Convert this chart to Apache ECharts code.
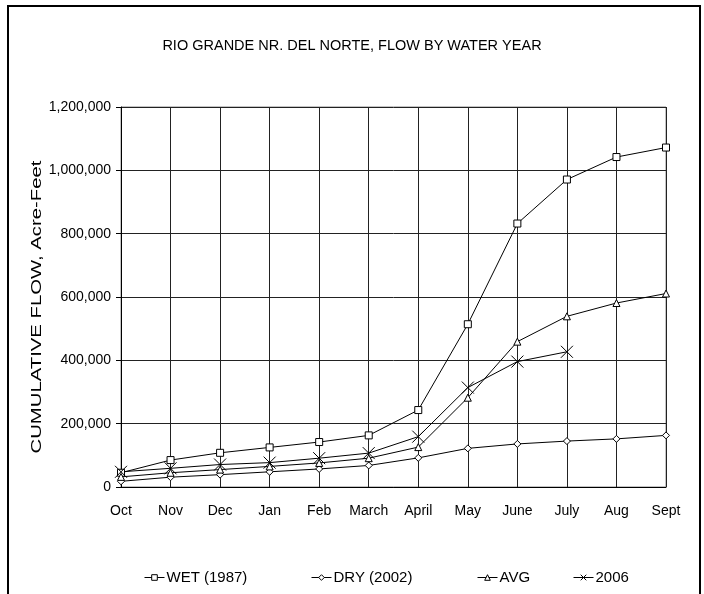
<!DOCTYPE html>
<html><head><meta charset="utf-8">
<script src="https://cdn.jsdelivr.net/npm/echarts@6/dist/echarts.min.js"></script>
<style>html,body{margin:0;padding:0;background:#fff}#c{width:704px;height:594px}</style>
</head><body><div id="c"></div>
<script>
const months = ['Oct','Nov','Dec','Jan','Feb','March','April','May','June','July','Aug','Sept'];
const wet1987 = [45000, 85000, 108000, 125000, 142000, 163000, 243000, 514000, 832000, 971000, 1042000, 1072000];
const dry2002 = [18000, 31000, 39000, 48000, 57000, 68000, 92000, 122000, 136000, 145000, 152000, 163000];
const avg = [32000, 45000, 55000, 65000, 76000, 91000, 126000, 282000, 459000, 539000, 581000, 611000];
const y2006 = [48000, 59000, 71000, 77000, 91000, 107000, 159000, 314000, 396000, 427000];
const seriesNames = ['WET (1987)', 'DRY (2002)', 'AVG', '2006'];
const titleText = 'RIO GRANDE NR. DEL NORTE, FLOW BY WATER YEAR';
const yAxisTitle = 'CUMULATIVE FLOW, Acre-Feet';

const FONT = '"Liberation Sans", Arial, sans-serif';
const xPath = 'path://M0,0L10,10M10,0L0,10';
const chart = echarts.init(document.getElementById('c'));
function mk(name, data, symbol, size) {
  return {
    name, type: 'line', data, symbol, symbolSize: size, showSymbol: true,
    lineStyle: { color: '#000', width: 1 },
    itemStyle: { color: '#fff', borderColor: '#000', borderWidth: 1 },
    emphasis: { disabled: true }, animation: false, z: 5
  };
}
function lg(name, left) {
  return {
    data: [name], left, top: 565, itemWidth: 20, itemHeight: 7, itemGap: 0,
    itemStyle: { color: '#fff', borderColor: '#000', borderWidth: 1 },
    lineStyle: { color: '#000', width: 1 },
    textStyle: { fontFamily: FONT, fontSize: 15, color: '#000', padding: [0,0,0,-3] },
    selectedMode: false
  };
}
chart.setOption({
  animation: false,
  title: { text: titleText, left: 'center', top: 33,
    textStyle: { fontFamily: FONT, fontSize: 14.5, fontWeight: 'normal', color: '#000' } },
  graphic: [
    { type: 'rect', shape: { x: 8, y: 6, width: 692, height: 620 },
      style: { fill: 'none', stroke: '#000', lineWidth: 2 }, silent: true },
    { type: 'text', x: 37, y: 307, rotation: Math.PI / 2, scaleX: 1.45, silent: true,
      style: { text: yAxisTitle, fontFamily: FONT, fontSize: 14, fill: '#000',
        align: 'center', verticalAlign: 'middle' } }
  ],
  legend: [lg(seriesNames[0], 139), lg(seriesNames[1], 306), lg(seriesNames[2], 472), lg(seriesNames[3], 568)],
  grid: { left: 121, right: 38, top: 107, bottom: 107, show: true, borderColor: '#888', borderWidth: 1 },
  xAxis: {
    type: 'category', data: months, boundaryGap: false,
    axisLine: { lineStyle: { color: '#000', width: 1 } },
    axisTick: { show: false },
    axisLabel: { interval: 0, fontFamily: FONT, fontSize: 14, color: '#000', margin: 17 },
    splitLine: { show: true, interval: 0, lineStyle: { color: '#222', width: 1 } }
  },
  yAxis: {
    type: 'value', min: 0, max: 1200000, interval: 200000,
    axisLine: { show: true, lineStyle: { color: '#000', width: 1 } },
    axisTick: { show: true, length: 5, lineStyle: { color: '#000' } },
    axisLabel: { fontFamily: FONT, fontSize: 14, color: '#000', margin: 10,
      formatter: v => v.toLocaleString('en-US') },
    splitLine: { show: true, lineStyle: { color: '#222', width: 1 } }
  },
  series: [
    mk(seriesNames[0], wet1987, 'rect', 7),
    mk(seriesNames[1], dry2002, 'diamond', 7),
    mk(seriesNames[2], avg, 'triangle', 7),
    mk(seriesNames[3], y2006, xPath, 12)
  ]
});
</script></body></html>
